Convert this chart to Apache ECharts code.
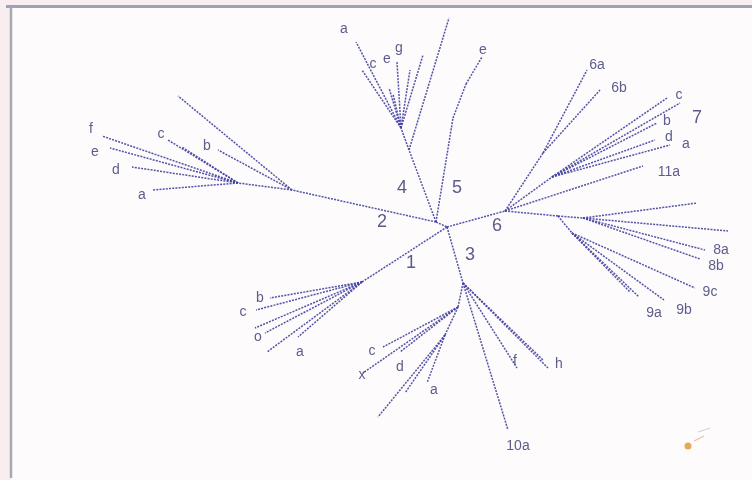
<!DOCTYPE html>
<html>
<head>
<meta charset="utf-8">
<title>Unrooted tree</title>
<script src="https://cdn.jsdelivr.net/npm/echarts@6/dist/echarts.min.js"></script>
<style>
  html, body { margin: 0; padding: 0; background: #f8eef0; }
  #chart { width: 752px; height: 480px; }
</style>
</head>
<body>
<div id="chart"></div>
<script>
// Tree nodes: [id, x, y] in plot units (y grows downward)
const coreNodes = [
  ['n0', 436, 222], ['n1', 447, 227]
];
const clade2Nodes = [
  ['h2', 292, 190], ['s2', 238, 183], ['c2long', 178, 96], ['c2b', 218, 150],
  ['c2c', 168, 140], ['c2c2', 182, 147], ['c2f', 102, 136], ['c2e', 110, 148],
  ['c2d', 132, 167], ['c2a', 152, 190]
];
const clade4Nodes = [
  ['h4', 409, 150], ['c4top', 449, 18], ['s4', 401, 128], ['c4a', 356, 42],
  ['c4c', 362, 70], ['c4h1', 389, 88], ['c4h2', 393, 94], ['c4l', 397, 62],
  ['c4g', 410, 70], ['c4f', 423, 55]
];
const clade5Nodes = [
  ['p5a', 453, 118], ['p5b', 466, 84], ['c5e', 482, 57]
];
const clade6Nodes = [
  ['h6', 505, 211], ['s6', 543, 153], ['c6a', 587, 70], ['c6b', 600, 90],
  ['h7', 552, 177], ['c7c', 667, 98], ['c7c2', 680, 103], ['c7b', 657, 123],
  ['c7d', 655, 140], ['c7a', 670, 145], ['c11a', 643, 166]
];
const clade89Nodes = [
  ['h89', 558, 216], ['h8', 583, 218], ['c8x1', 697, 203], ['c8x2', 728, 231],
  ['c8a', 705, 250], ['c8b', 700, 259], ['h9', 572, 233], ['c9a', 639, 297],
  ['c9a2', 630, 292], ['c9b', 664, 300], ['c9c', 695, 288]
];
const clade1Nodes = [
  ['h1', 362, 282], ['c1b', 270, 298], ['c1c', 256, 310], ['c1x', 255, 328],
  ['c1o', 265, 333], ['c1y', 267, 352], ['c1a', 298, 337]
];
const clade3Nodes = [
  ['h3', 463, 283], ['s3c', 458, 307], ['c3c', 383, 347], ['c3x', 363, 373],
  ['c3d', 400, 352], ['s3a', 445, 335], ['c3a1', 378, 417], ['c3a2', 405, 393],
  ['c3a3', 427, 383], ['c10a', 508, 430], ['c3f', 517, 368], ['c3h', 548, 368],
  ['c3h2', 543, 360]
];

// Branches: [from, to]
const branches = [
  ['n0', 'n1'],
  ['n0', 'h2'], ['h2', 'c2long'], ['h2', 'c2b'], ['h2', 's2'], ['s2', 'c2c'], ['s2', 'c2c2'],
  ['s2', 'c2f'], ['s2', 'c2e'], ['s2', 'c2d'], ['s2', 'c2a'],
  ['n0', 'h4'], ['h4', 'c4top'], ['h4', 's4'], ['s4', 'c4a'], ['s4', 'c4c'], ['s4', 'c4h1'],
  ['s4', 'c4h2'], ['s4', 'c4l'], ['s4', 'c4g'], ['s4', 'c4f'],
  ['n0', 'p5a'], ['p5a', 'p5b'], ['p5b', 'c5e'],
  ['n1', 'h6'], ['h6', 's6'], ['s6', 'c6a'], ['s6', 'c6b'], ['h6', 'h7'], ['h7', 'c7c'],
  ['h7', 'c7c2'], ['h7', 'c7b'], ['h7', 'c7d'], ['h7', 'c7a'], ['h6', 'c11a'],
  ['h6', 'h89'], ['h89', 'h8'], ['h8', 'c8x1'], ['h8', 'c8x2'], ['h8', 'c8a'], ['h8', 'c8b'],
  ['h89', 'h9'], ['h9', 'c9a'], ['h9', 'c9a2'], ['h9', 'c9b'], ['h9', 'c9c'],
  ['n1', 'h1'], ['h1', 'c1b'], ['h1', 'c1c'], ['h1', 'c1x'], ['h1', 'c1o'], ['h1', 'c1y'], ['h1', 'c1a'],
  ['n1', 'h3'], ['h3', 's3c'], ['s3c', 'c3c'], ['s3c', 'c3x'], ['s3c', 'c3d'], ['s3c', 's3a'],
  ['s3a', 'c3a1'], ['s3a', 'c3a2'], ['s3a', 'c3a3'], ['h3', 'c10a'], ['h3', 'c3f'],
  ['h3', 'c3h'], ['h3', 'c3h2']
];

// Tip labels: [text, x, y]
const tipLabels = [
  ['f', 91, 129], ['e', 95, 152], ['d', 116, 170], ['a', 142, 195], ['c', 161, 134], ['b', 207, 146],
  ['a', 344, 29], ['c', 373, 64], ['e', 387, 59], ['g', 399, 48],
  ['e', 483, 50],
  ['6a', 597, 65], ['6b', 619, 88], ['c', 679, 95], ['b', 667, 121], ['d', 669, 137], ['a', 686, 144], ['11a', 669, 172],
  ['8a', 721, 250], ['8b', 716, 266], ['9c', 710, 292], ['9b', 684, 310], ['9a', 654, 313],
  ['b', 260, 298], ['c', 243, 312], ['o', 258, 337], ['a', 300, 352],
  ['c', 372, 351], ['x', 362, 375], ['d', 400, 367], ['a', 434, 390], ['f', 515, 361], ['h', 559, 364],
  ['10a', 518, 446]
];
// Clade numbers: [text, x, y]
const cladeLabels = [
  ['1', 411, 263], ['2', 382, 222], ['3', 470, 255], ['4', 402, 188], ['5', 457, 188],
  ['6', 497, 226], ['7', 697, 118]
];

const allNodes = [].concat(coreNodes, clade2Nodes, clade4Nodes, clade5Nodes,
  clade6Nodes, clade89Nodes, clade1Nodes, clade3Nodes);

const chart = echarts.init(document.getElementById('chart'), null, { renderer: 'canvas' });
const FONT = '"Liberation Sans", Arial, sans-serif';

chart.setOption({
  animation: false,
  backgroundColor: '#f8eef0',
  graphic: [
    { type: 'rect', z: -10, shape: { x: 11, y: 7, width: 741, height: 473 }, style: { fill: '#fdfbfb' } },
    { type: 'line', z: -5, shape: { x1: 6, y1: 6.5, x2: 752, y2: 6.5 }, style: { stroke: '#9ea2b8', lineWidth: 3 } },
    { type: 'line', z: -5, shape: { x1: 11, y1: 7, x2: 11, y2: 478 }, style: { stroke: '#a8a8b4', lineWidth: 2.5 } },
    { type: 'circle', shape: { cx: 688, cy: 446, r: 3.5 }, style: { fill: '#e39a3c', opacity: 0.85 } },
    { type: 'line', shape: { x1: 694, y1: 441, x2: 704, y2: 436 }, style: { stroke: '#e0a870', lineWidth: 1.2, opacity: 0.7 } },
    { type: 'line', shape: { x1: 698, y1: 432, x2: 710, y2: 428 }, style: { stroke: '#b0b0c0', lineWidth: 1, opacity: 0.6 } }
  ],
  grid: { left: 0, right: 0, top: 0, bottom: 0 },
  xAxis: { type: 'value', min: 0, max: 752, show: false },
  yAxis: { type: 'value', min: 0, max: 480, inverse: true, show: false },
  series: [
    {
      type: 'graph',
      coordinateSystem: 'cartesian2d',
      silent: true,
      symbolSize: 0,
      label: { show: false },
      data: allNodes.map(n => ({ name: n[0], value: [n[1], n[2]] })),
      links: branches.map(b => ({ source: b[0], target: b[1] })),
      lineStyle: { color: '#4444a2', width: 1.5, type: [2, 1.2], opacity: 0.92, curveness: 0 }
    },
    {
      type: 'scatter',
      silent: true,
      symbolSize: 0,
      data: tipLabels.map(t => ({ name: t[0], value: [t[1], t[2]] })),
      label: {
        show: true, position: 'inside', formatter: p => p.name,
        color: '#34346f', fontSize: 14, fontFamily: FONT
      }
    },
    {
      type: 'scatter',
      silent: true,
      symbolSize: 0,
      data: cladeLabels.map(t => ({ name: t[0], value: [t[1], t[2]] })),
      label: {
        show: true, position: 'inside', formatter: p => p.name,
        color: '#32326e', fontSize: 18, fontFamily: FONT
      }
    }
  ]
});
</script>
</body>
</html>
